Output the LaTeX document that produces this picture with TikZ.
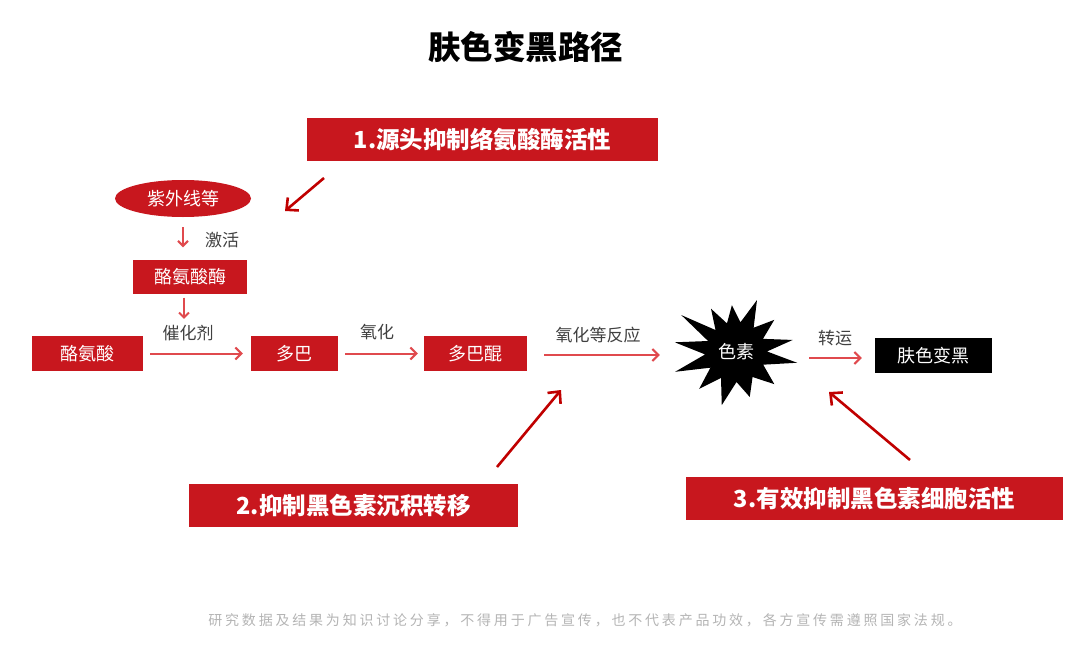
\documentclass[tikz,border=0pt]{standalone}
\usepackage{fontspec}
\setmainfont{Noto Sans CJK SC}
\usetikzlibrary{arrows.meta,shapes.geometric}
\definecolor{boxred}{HTML}{C8171E}
\definecolor{flowred}{HTML}{E04A4E}
\definecolor{darkred}{HTML}{C00000}
\definecolor{labelgray}{HTML}{404040}
\definecolor{footgray}{HTML}{B4B4B4}
\begin{document}
\begin{tikzpicture}[x=1pt,y=-1pt,
  redbox/.style={fill=boxred, text=white, inner sep=0pt, font=\fontsize{18}{20}\selectfont},
  bigbox/.style={fill=boxred, text=white, inner sep=0pt, minimum height=43pt, font=\bfseries\fontsize{23.5}{25}\selectfont},
  lbl/.style={text=labelgray, inner sep=1pt, font=\fontsize{17}{19}\selectfont},
  flow/.style={draw=flowred, line width=2pt, -{Straight Barb[length=6pt,width=12pt,line width=2pt]}},
  downflow/.style={draw=flowred, line width=2pt, -{Straight Barb[length=5pt,width=10pt,line width=2pt]}},
  pointer/.style={draw=darkred, line width=2.6pt, -{Straight Barb[length=9pt,width=17pt,line width=2.6pt]}}
]
\useasboundingbox (0,0) rectangle (1080,653);

% title
\node[font=\bfseries\fontsize{32.5}{35}\selectfont] (title) at (525.5,47) {肤色变黑路径};

% strategy boxes
\node[bigbox, minimum width=351pt] (s1) at (482.5,139.5) {1.源头抑制络氨酸酶活性};
\node[bigbox, minimum width=329pt] (s2) at (353.5,505.5) {2.抑制黑色素沉积转移};
\node[bigbox, minimum width=377pt] (s3) at (874.5,498.5) {3.有效抑制黑色素细胞活性};

% pathway
\node[ellipse, fill=boxred, text=white, inner sep=0pt, minimum width=136pt, minimum height=37pt, font=\fontsize{18}{20}\selectfont] (uv) at (183,198.5) {紫外线等};
\node[redbox, minimum width=114pt, minimum height=34pt] (enz) at (190,276.5) {酪氨酸酶};
\node[redbox, minimum width=111pt, minimum height=35pt] (tyr) at (87.5,353.5) {酪氨酸};
\node[redbox, minimum width=87pt, minimum height=35pt] (dopa) at (294.5,353.5) {多巴};
\node[redbox, minimum width=103pt, minimum height=35pt] (dq) at (475.5,353.5) {多巴醌};
\node[fill=black, text=white, inner sep=0pt, minimum width=117pt, minimum height=35pt, font=\fontsize{18}{20}\selectfont] (dark) at (933.5,355.5) {肤色变黑};

% pigment starburst
\node[circle, inner sep=0pt, minimum size=120pt] (pig) at (736,352) {};
\fill[black, shift={(pig.center)}]
  (-171:62) -- (-158.5:30) -- (-146:66) -- (-133:30) -- (-120:50) -- (-107.5:30)
  -- (-95:47) -- (-81.5:30) -- (-68:56) -- (-54:30) -- (-40:50) -- (-26:30)
  -- (-12:58) -- (-1:31) -- (10:62) -- (25:30) -- (40:50) -- (56.5:30)
  -- (73:47) -- (89:30) -- (105:55) -- (120:30) -- (135:52) -- (148.5:30)
  -- (162:64) -- (175.5:31) -- cycle;
\node[text=white, font=\fontsize{18}{20}\selectfont] (pigtext) at (pig.center) {色素};

% labels
\node[lbl] (act) at (222,240) {激活};
\node[lbl] (cat) at (188,333) {催化剂};
\node[lbl] (ox) at (377,332) {氧化};
\node[lbl] (oxr) at (598,335) {氧化等反应};
\node[lbl] (trans) at (835,338) {转运};

% flow arrows
\draw[downflow, shorten <=10pt, shorten >=12pt] (uv.south -| 183,0) -- (enz.north -| 183,0);
\draw[downflow, shorten <=4pt, shorten >=5pt] (enz.south -| 184,0) -- (cat.north -| 184,0);
\draw[flow, shorten <=7pt, shorten >=8pt] (tyr.east) -- (dopa.west);
\draw[flow, shorten <=7pt, shorten >=6pt] (dopa.east) -- (dq.west);
\draw[flow, shorten <=17pt, shorten >=16pt] (dq.east |- 0,355) -- (pig.west |- 0,355);
\draw[flow, shorten <=13pt, shorten >=13pt] (pig.east |- 0,358) -- (dark.west |- 0,358);

% pointer arrows
\coordinate (p1s) at (324,178);
\coordinate (p1e) at (285,211);
\coordinate (p2s) at (497,467);
\coordinate (p2e) at (561,390);
\coordinate (p3s) at (910,460);
\coordinate (p3e) at (829,392);
\draw[pointer] (p1s) -- (p1e);
\draw[pointer] (p2s) -- (p2e);
\draw[pointer] (p3s) -- (p3e);

% footer
\node[text=footgray, font=\fontsize{14}{16}\selectfont\addfontfeature{LetterSpace=20}] (foot) at (585,620) {研究数据及结果为知识讨论分享，不得用于广告宣传，也不代表产品功效，各方宣传需遵照国家法规。};
\end{tikzpicture}
\end{document}
